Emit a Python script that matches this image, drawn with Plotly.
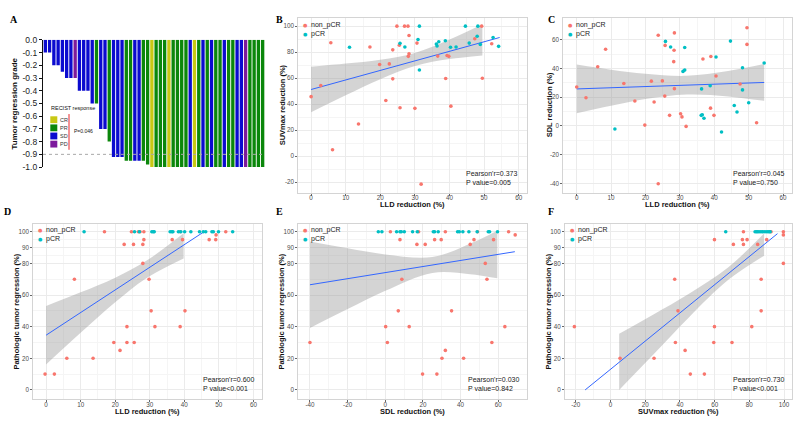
import plotly.graph_objects as go

W, H = 797, 422


def px(p):
    return p / W


def py(p):
    return 1 - p / H


# ---------------- DATA ----------------
# Panel A: waterfall of tumor regression grade, coloured by RECIST response
tumor_regression = [-0.1, -0.1, -0.2, -0.2, -0.25, -0.3, -0.3, -0.3, -0.4, -0.4, -0.4, -0.5, -0.5,
                    -0.7, -0.7, -0.8, -0.92, -0.92, -0.92, -0.95, -0.95, -0.95, -0.95, -0.95, -0.98,
                    -1.0, -1.0, -1.0, -1.0, -1.0, -1.0, -1.0, -1.0, -1.0, -1.0, -1.0, -1.0, -1.0,
                    -1.0, -1.0, -1.0, -1.0, -1.0, -1.0, -1.0, -1.0, -1.0, -1.0, -1.0, -1.0, -1.0, -1.0]
recist = ["SD", "SD", "SD", "SD", "SD", "SD", "SD", "PD", "SD", "SD", "SD", "SD", "PR",
          "SD", "SD", "PR", "SD", "SD", "SD", "PR", "PR", "SD", "SD", "PR", "PR",
          "CR", "PR", "PR", "PR", "CR", "PR", "PR", "PR", "PR", "SD", "CR", "PR", "SD",
          "PR", "SD", "PR", "PR", "SD", "PR", "PR", "SD", "SD", "PD", "PR", "PR", "PR", "PR"]
recist_levels = ["CR", "PR", "SD", "PD"]
recist_colors = {"CR": "#C8C814", "PR": "#0B870B", "SD": "#0B0BCF", "PD": "#7D1A9C"}
a_tickvals = [0.0, -0.1, -0.2, -0.3, -0.4, -0.5, -0.6, -0.7, -0.8, -0.9, -1.0]
a_ticktext = ["0.0", "-0.1", "-0.2", "-0.3", "-0.4", "-0.5", "-0.6", "-0.7", "-0.8", "-0.9", "-1.0"]
a_threshold = -0.9
a_pvalue = "P=0.046"

# Panel B: LLD reduction vs SUVmax reduction
b_x_non = [0, 2.8, 5.7, 6.2, 13.7, 17, 19.8, 22.6, 21.6, 23.6, 23.6, 24.8, 25.5, 25.7, 27, 28, 28.3,
           28.3, 28.1, 30.6, 30, 31.8, 36.6, 38.9, 39.3, 39.8, 40.4, 47.3, 49.3, 49.5, 52.2]
b_y_non = [45.8, 54.3, 87.3, 5, 24.8, 84, 70.5, 71, 42.8, 81.8, 59.5, 100, 85.3, 37.3, 100, 100, 92.8,
           78.8, 76.8, 87, 36.8, -21.5, 77, 59.8, 77.5, 76.8, 38.5, 90.3, 100, 60, 86.5]
b_x_pcr = [11.1, 25.7, 27.1, 30.9, 31.3, 31.3, 36.2, 36.4, 36.9, 38.8, 40.3, 41.9, 44.6, 45.7, 48.2,
           48, 48.9, 52.6, 54.2]
b_y_pcr = [83.8, 86.8, 84, 89.8, 100, 66.3, 86.3, 84.8, 88, 88.8, 83.8, 84, 100, 87, 100, 92.3, 86,
           91.3, 84.5]
b_fit_x = [0, 54.5]
b_fit_y = [51.3, 91.3]
b_band_x = [0, 10, 20, 30, 40, 49.5]
b_band_hi = [68.8, 71.2, 74.2, 79.4, 89.7, 101.5]
b_band_lo = [33.8, 46.8, 59.2, 69.4, 74.7, 77.5]
b_stats = ["Pearson'r=0.373", "P value=0.005"]

# Panel C: LLD reduction vs SDL reduction
c_x_non = [0, 2.7, 6.1, 8.4, 13.7, 16.9, 19.8, 21.7, 22.5, 23.7, 23.7, 24.9, 25.7, 25.6, 27, 28.4,
           28.3, 28.2, 28.4, 30.2, 30.6, 31.8, 36.7, 39, 38.9, 39.9, 40.5, 47.5, 49.5, 49.5, 52.3]
c_y_non = [27.1, 19.6, 41.2, 53.4, 29.6, 17.4, 0.6, 31.2, 16.7, 63.2, -40.2, 31.4, 56.1, 20.8, 7.4,
           64.8, 52.7, 44.8, 26, 8.5, 6.3, -0.3, 46.6, 48.4, 12.4, 7.4, 34.8, 29.2, 68.4, 56.8, 2.2]
c_x_pcr = [11.1, 25.8, 27.3, 31.4, 30.9, 31.4, 36.3, 36.2, 36.5, 37, 38.8, 40.5, 42.1, 44.7, 45.8,
           46.6, 48.2, 48.2, 50, 54.5]
c_y_pcr = [-2.1, 58.9, 55, 54.6, 38, 38.9, 25.8, 7.4, 7.8, 5.4, 28, 48, -4.2, 59.1, 14.2, 9.7, 40.5,
           25.1, 16.2, 43.9]
c_fit_x = [0, 54.5]
c_fit_y = [25.8, 30.3]
c_band_x = [0, 10, 20, 32, 44, 54.5]
c_band_hi = [42.8, 39.2, 36.3, 34.9, 38.2, 43.1]
c_band_lo = [8.8, 14.0, 18.7, 21.9, 20.6, 17.5]
c_stats = ["Pearson'r=0.045", "P value=0.750"]

# Panel D: LLD reduction vs pathologic tumor regression
d_x_non = [-0.3, 2.4, 6, 8.2, 13.6, 16.9, 19.6, 21.4, 22.6, 23.4, 23.4, 24.7, 25.3, 25.5, 26.7, 27.2,
           28, 28, 28.3, 28.3, 29.8, 30.4, 31.5, 36.5, 38.8, 38.8, 39.5, 40.2, 47.2, 49.2, 49.1, 52]
d_y_non = [10, 10, 20, 70, 20, 100, 30, 25, 92, 40, 30, 100, 92, 30, 100, 100, 80, 92, 95, 100, 70, 50,
           40, 95, 100, 40, 95, 50, 95, 98, 95, 100]
d_x_pcr = [11, 25.6, 27, 30.6, 31, 31.3, 35.9, 36.4, 36.7, 38.3, 39, 40.1, 41.9, 44.4, 45.5, 46.2, 48,
           48.4, 49.9, 54]
d_y_pcr = [100, 100, 100, 100, 100, 100, 100, 100, 100, 100, 100, 100, 100, 100, 100, 100, 100, 100,
           100, 100]
d_fit_x = [0, 45.7]
d_fit_y = [34.6, 100]
d_band_x = [0, 10, 20, 29, 39.8]
d_band_hi = [53.1, 61.7, 71, 81.6, 99]
d_band_lo = [16.1, 36.1, 55.4, 70.6, 83.1]
d_stats = ["Pearson'r=0.600", "P value<0.001"]

# Panel E: SDL reduction vs pathologic tumor regression
e_x_non = [-40, 0.2, 1.1, 2.7, 6.9, 7.8, 8.8, 12.7, 16.8, 17.7, 19.8, 21.2, 26.2, 27.4, 29.7, 30.1,
           31.9, 31.9, 35.2, 41.6, 45.1, 47.1, 49, 53.1, 54, 56.6, 57.5, 63.5, 65.5, 69]
e_y_non = [30, 40, 30, 100, 50, 95, 70, 40, 92, 100, 10, 92, 95, 10, 95, 20, 25, 100, 50, 20, 92, 95,
           100, 80, 70, 30, 95, 40, 100, 98]
e_x_pcr = [-3.7, -1.8, 6, 7.8, 8.5, 10.1, 14.5, 17, 25.5, 26.2, 28.1, 38.4, 39.3, 41.2, 44.4, 48.8,
           54.7, 55.4, 59.6]
e_y_pcr = [100, 100, 100, 100, 100, 100, 100, 100, 100, 100, 100, 100, 100, 100, 100, 100, 100, 100,
           100]
e_fit_x = [-40, 68.8]
e_fit_y = [66.5, 87.4]
e_band_x = [-40, -20, 0, 25, 45, 59.5]
e_band_hi = [93.8, 89.5, 85.7, 84, 92.4, 100.6]
e_band_lo = [39.2, 51.1, 62.7, 74, 73.2, 70.6]
e_stats = ["Pearson'r=0.030", "P value=0.842"]

# Panel F: SUVmax reduction vs pathologic tumor regression
f_x_non = [-20.8, 5.5, 25.1, 37, 37.4, 38.9, 43, 46, 54.1, 59.9, 59.5, 59.9, 70, 70.8, 76.6, 76, 76.6,
           78.7, 81.4, 84.8, 86.8, 86.8, 90, 92.5, 99.6, 99.6, 99.6]
f_y_non = [40, 20, 20, 70, 30, 50, 25, 10, 10, 95, 30, 40, 30, 92, 100, 95, 92, 95, 40, 92, 70, 50, 95,
           100, 100, 98, 80]
f_x_pcr = [66.4, 83.3, 84.1, 84.8, 85.6, 86.6, 87.5, 88.5, 89.6, 90.6, 91.4, 92]
f_y_pcr = [100, 100, 100, 100, 100, 100, 100, 100, 100, 100, 100, 100]
f_fit_x = [-14.6, 96.2]
f_fit_y = [0, 98.8]
f_band_x = [5, 25, 45, 67.9, 88.5]
f_band_hi = [35.5, 47.9, 60.7, 77.6, 98.9]
f_band_lo = [0, 22.7, 45.7, 69.6, 84.9]
f_stats = ["Pearson'r=0.730", "P value<0.001"]

group_names = ["non_pCR", "pCR"]
group_colors = ["#F8766D", "#00BFC4"]

path_ticks = [0, 20, 40, 60, 80, 90, 100]

# ---------------- FIGURE ----------------
SANS = "Liberation Sans, Arial, sans-serif"
SERIF = "Liberation Serif, Times New Roman, serif"

fig = go.Figure()
annotations = []
shapes = []


def note(text, x, y, size, color="#111111", xanchor="center", family=SANS, angle=0, align="center"):
    annotations.append(dict(text=text, x=px(x), y=py(y), xref="paper", yref="paper",
                            xanchor=xanchor, yanchor="middle", showarrow=False, borderpad=0,
                            textangle=angle, align=align,
                            font=dict(family=family, size=size, color=color)))


# ---- Panel A ----
fig.add_trace(go.Bar(
    x=list(range(len(tumor_regression))), y=tumor_regression,
    marker=dict(color=[recist_colors[r] for r in recist], line=dict(width=0)),
    xaxis="x", yaxis="y", showlegend=False, hoverinfo="skip"))

A_L, A_T, A_R, A_B = 43, 35.7, 265, 166
layout_axes = {}
layout_axes["xaxis"] = dict(domain=[px(A_L), px(A_R)], range=[-0.55, len(tumor_regression) - 0.45],
                            visible=False, anchor="y")
layout_axes["yaxis"] = dict(domain=[py(A_B), py(A_T)], range=[-1.0, 0.0], anchor="x",
                            tickvals=a_tickvals, ticktext=a_ticktext, showline=True,
                            linecolor="#111111", linewidth=1.3, ticks="outside", ticklen=3,
                            tickwidth=1, tickcolor="#111111", showgrid=False, zeroline=False,
                            tickfont=dict(family=SANS, size=8.5, color="#222222"))
shapes.append(dict(type="line", xref="x", yref="y", x0=-0.55, x1=len(tumor_regression) - 0.45,
                   y0=a_threshold, y1=a_threshold, layer="above",
                   line=dict(color="#A8A8A8", width=1, dash="dot")))
note("<b>Tumor regression grade</b>", 14, (A_T + A_B) / 2, 8, angle=-90)
# RECIST legend
note("RECIST response", 50, 105.7, 5.5, xanchor="left")
for i, lev in enumerate(recist_levels):
    top = 114 + i * 8.33
    shapes.append(dict(type="rect", xref="paper", yref="paper", x0=px(50.3), x1=px(57.3),
                       y0=py(top + 7), y1=py(top), fillcolor=recist_colors[lev],
                       line=dict(width=0)))
    note(lev, 58.7, top + 3.5, 5.5, color="#333333", xanchor="left")
shapes.append(dict(type="line", xref="paper", yref="paper", x0=px(69), x1=px(69),
                   y0=py(111.7), y1=py(148.3), line=dict(color="#E8262B", width=1)))
note(a_pvalue, 72.5, 129.5, 5, xanchor="left")

# ---- scatter panels ----
panels = [
    dict(n=2, box=(298.3, 13.3, 527, 192.3), xr=[-3.7, 62.4], yr=[-28.1, 106.3],
         xt=[0, 10, 20, 30, 40, 50, 60], yt=[-20, 0, 20, 40, 60, 80, 100],
         xn=b_x_non, yn=b_y_non, xp=b_x_pcr, yp=b_y_pcr, fx=b_fit_x, fy=b_fit_y,
         bx=b_band_x, bh=b_band_hi, bl=b_band_lo, st=b_stats, stx=465,
         xtitle="LLD reduction (%)", ytitle="SUVmax reduction (%)", ytx=282),
    dict(n=3, box=(563.3, 13.3, 791.7, 192.3), xr=[-3.9, 62.5], yr=[-46.5, 75.2],
         xt=[0, 10, 20, 30, 40, 50, 60], yt=[-40, -20, 0, 20, 40, 60],
         xn=c_x_non, yn=c_y_non, xp=c_x_pcr, yp=c_y_pcr, fx=c_fit_x, fy=c_fit_y,
         bx=c_band_x, bh=c_band_hi, bl=c_band_lo, st=c_stats, stx=731.7,
         xtitle="LLD reduction (%)", ytitle="SDL reduction (%)", ytx=549),
    dict(n=4, box=(33.3, 224, 261.7, 404), xr=[-3.7, 62.4], yr=[-6, 105.1],
         xt=[0, 10, 20, 30, 40, 50, 60], yt=path_ticks,
         xn=d_x_non, yn=d_y_non, xp=d_x_pcr, yp=d_y_pcr, fx=d_fit_x, fy=d_fit_y,
         bx=d_band_x, bh=d_band_hi, bl=d_band_lo, st=d_stats, stx=201.7,
         xtitle="LLD reduction (%)", ytitle="Pathologic tumor regression (%)", ytx=17),
    dict(n=5, box=(298.3, 224, 526.7, 404), xr=[-46.2, 75.1], yr=[-6, 105.1],
         xt=[-40, -20, 0, 20, 40, 60], yt=path_ticks,
         xn=e_x_non, yn=e_y_non, xp=e_x_pcr, yp=e_y_pcr, fx=e_fit_x, fy=e_fit_y,
         bx=e_band_x, bh=e_band_hi, bl=e_band_lo, st=e_stats, stx=466.7,
         xtitle="SDL reduction (%)", ytitle="Pathologic tumor regression (%)", ytx=282),
    dict(n=6, box=(565, 224, 791.7, 404), xr=[-26.2, 104.4], yr=[-6, 105.1],
         xt=[-20, 0, 20, 40, 60, 80, 100], yt=path_ticks,
         xn=f_x_non, yn=f_y_non, xp=f_x_pcr, yp=f_y_pcr, fx=f_fit_x, fy=f_fit_y,
         bx=f_band_x, bh=f_band_hi, bl=f_band_lo, st=f_stats, stx=731.7,
         xtitle="SUVmax reduction (%)", ytitle="Pathologic tumor regression (%)", ytx=549),
]


def mids(t):
    return [(a + b) / 2 for a, b in zip(t[:-1], t[1:])]


for p in panels:
    n = p["n"]
    xa, ya = f"x{n}", f"y{n}"
    L, T, R, B = p["box"]
    # confidence band
    fig.add_trace(go.Scatter(x=p["bx"], y=p["bl"], mode="lines", line=dict(width=0, shape="spline"),
                             xaxis=xa, yaxis=ya, showlegend=False, hoverinfo="skip"))
    fig.add_trace(go.Scatter(x=p["bx"], y=p["bh"], mode="lines", line=dict(width=0, shape="spline"),
                             fill="tonexty", fillcolor="rgba(153,153,153,0.42)",
                             xaxis=xa, yaxis=ya, showlegend=False, hoverinfo="skip"))
    # fit line
    fig.add_trace(go.Scatter(x=p["fx"], y=p["fy"], mode="lines",
                             line=dict(color="#3366FF", width=1),
                             xaxis=xa, yaxis=ya, showlegend=False, hoverinfo="skip"))
    # points
    for xs, ys, nm, col in [(p["xn"], p["yn"], group_names[0], group_colors[0]),
                            (p["xp"], p["yp"], group_names[1], group_colors[1])]:
        fig.add_trace(go.Scatter(x=xs, y=ys, mode="markers", name=nm,
                                 marker=dict(color=col, size=3.6, line=dict(width=0)),
                                 xaxis=xa, yaxis=ya, showlegend=False))
    common = dict(showline=True, mirror=True, linecolor="#D4D4D4", linewidth=0.8,
                  ticks="outside", ticklen=2, tickwidth=0.6, tickcolor="#666666",
                  showgrid=True, gridcolor="#EBEBEB", gridwidth=0.6, zeroline=False,
                  tickfont=dict(family=SANS, size=6.3, color="#4D4D4D"))
    layout_axes[f"xaxis{n}"] = dict(domain=[px(L), px(R)], range=p["xr"], anchor=ya,
                                    tickvals=p["xt"], ticktext=[str(v) for v in p["xt"]],
                                    ticklabelstandoff=-3,
                                    minor=dict(tickvals=mids(p["xt"]), showgrid=True,
                                               gridcolor="#F5F5F5", gridwidth=0.4, ticks=""),
                                    **common)
    layout_axes[f"yaxis{n}"] = dict(domain=[py(B), py(T)], range=p["yr"], anchor=xa,
                                    tickvals=p["yt"], ticktext=[str(v) for v in p["yt"]],
                                    ticklabelstandoff=0,
                                    minor=dict(tickvals=mids(p["yt"]), showgrid=True,
                                               gridcolor="#F5F5F5", gridwidth=0.4, ticks=""),
                                    **common)
    # legend (inside, top-left)
    for i, (nm, col) in enumerate(zip(group_names, group_colors)):
        yy = T + 6.8 + i * 9.2
        note("●", L + 7.4, yy, 5, color=col, family="DejaVu Sans")
        note(nm, L + 11.5, yy, 7, color="#222222", xanchor="left")
    # stats (two lines)
    note("<br>".join(p["st"]), p["stx"], B - 15.6, 7, color="#222222", xanchor="left", align="left")
    # axis titles
    note(f"<b>{p['xtitle']}</b>", (L + R) / 2, B + 12.5, 7.5)
    note(f"<b>{p['ytitle']}</b>", p["ytx"], (T + B) / 2, 7.5, angle=-90)

# panel letters
for lab, lx, ly in [("A", 14.3, 15), ("B", 279, 15), ("C", 551, 15),
                    ("D", 7.5, 212), ("E", 279, 212), ("F", 551, 212)]:
    note(f"<b>{lab}</b>", lx, ly, 10, color="#000000", family=SERIF)

fig.update_layout(
    width=W, height=H, autosize=False,
    margin=dict(l=0, r=0, t=0, b=0),
    paper_bgcolor="white", plot_bgcolor="white",
    bargap=0.22, showlegend=False,
    annotations=annotations, shapes=shapes,
    **layout_axes)

fig.write_html("out.html", config={"displayModeBar": False},
               post_script="document.body.style.margin='0';document.body.style.overflow='hidden';")
